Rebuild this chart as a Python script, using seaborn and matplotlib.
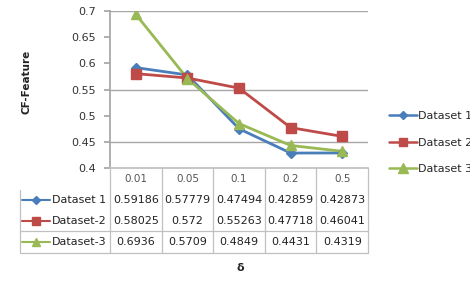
import matplotlib
matplotlib.use("Agg")
import matplotlib.pyplot as plt
import seaborn as sns
import pandas as pd
from matplotlib.lines import Line2D

# ---- data ----
deltas = ["0.01", "0.05", "0.1", "0.2", "0.5"]
table_names = ["Dataset 1", "Dataset-2", "Dataset-3"]
legend_names = ["Dataset 1", "Dataset 2", "Dataset 3"]
ds1 = [0.59186, 0.57779, 0.47494, 0.42859, 0.42873]
ds2 = [0.58025, 0.572, 0.55263, 0.47718, 0.46041]
ds3 = [0.6936, 0.5709, 0.4849, 0.4431, 0.4319]
table_text = [
    ["0.59186", "0.57779", "0.47494", "0.42859", "0.42873"],
    ["0.58025", "0.572", "0.55263", "0.47718", "0.46041"],
    ["0.6936", "0.5709", "0.4849", "0.4431", "0.4319"],
]
y_ticks = [0.4, 0.45, 0.5, 0.55, 0.6, 0.65, 0.7]
y_ticklabels = ["0.4", "0.45", "0.5", "0.55", "0.6", "0.65", "0.7"]
grid_values = [0.45, 0.55, 0.7]
y_label = "CF-Feature"
x_label = "δ"

colors = ["#4A7EBB", "#BE4B48", "#98B954"]
markers = ["D", "s", "^"]
msizes = [5, 7, 7.5]

sns.set_theme(style="white")
plt.rcParams["font.family"] = ["DejaVu Sans"]

W, H = 470, 281
fig = plt.figure(figsize=(W / 100, H / 100), dpi=100)

def fx(px):
    return px / W

def fy(py):
    return 1 - py / H

ax_l, ax_r, ax_t, ax_b = 110, 368, 11, 168
ax = fig.add_axes([fx(ax_l), fy(ax_b), fx(ax_r - ax_l), (ax_b - ax_t) / H])

rows = []
for name, vals in zip(legend_names, [ds1, ds2, ds3]):
    for i, v in enumerate(vals):
        rows.append({"idx": i, "value": v, "series": name})
df = pd.DataFrame(rows)

sns.lineplot(data=df, x="idx", y="value", hue="series", palette=colors,
             linewidth=2.0, legend=False, ax=ax)
for k, name in enumerate(legend_names):
    sub = df[df.series == name]
    ax.plot(sub["idx"], sub["value"], linestyle="none", marker=markers[k],
            markersize=msizes[k], color=colors[k], zorder=5)

ax.set_xlim(-0.5, len(deltas) - 0.5)
ax.set_ylim(0.4, 0.7)
ax.set_yticks(y_ticks)
ax.set_yticklabels(y_ticklabels, fontsize=8, color="#333333")
ax.set_xticks([])
ax.set_xlabel("")
ax.set_ylabel("")
for v in grid_values:
    ax.axhline(v, color="#A6A6A6", linewidth=1.0, zorder=0)
for s in ["top", "right"]:
    ax.spines[s].set_visible(False)
ax.spines["left"].set_color("#A6A6A6")
ax.spines["bottom"].set_color("#BFBFBF")
ax.tick_params(axis="y", which="major", direction="out", length=4,
               color="#A6A6A6", left=True, pad=6)

fig.text(fx(27), fy(82), y_label, rotation=90, fontsize=7.5,
         fontweight="bold", ha="center", va="center", color="#222222")
fig.text(fx(240), fy(268), x_label, fontsize=8, fontweight="bold",
         ha="center", va="center", color="#222222")

# ---- data table ----
col_w = (ax_r - ax_l) / len(deltas)
row_tops = [168, 190, 210, 231, 253]
lc = "#C0C0C0"
for j in range(len(deltas) + 1):
    x = ax_l + j * col_w
    fig.add_artist(Line2D([fx(x), fx(x)], [fy(168), fy(253)], color=lc, lw=0.9))
fig.add_artist(Line2D([fx(20), fx(20)], [fy(190), fy(253)], color=lc, lw=0.9))
for yy in [231, 253]:
    fig.add_artist(Line2D([fx(20), fx(ax_r)], [fy(yy), fy(yy)], color=lc, lw=0.9))

for j, d in enumerate(deltas):
    fig.text(fx(ax_l + (j + 0.5) * col_w), fy((row_tops[0] + row_tops[1]) / 2),
             d, fontsize=7.5, color="#555555", ha="center", va="center")
for r in range(3):
    yc = fy((row_tops[r + 1] + row_tops[r + 2]) / 2)
    fig.add_artist(Line2D([fx(22), fx(50)], [yc, yc], color=colors[r], lw=1.5))
    fig.add_artist(Line2D([fx(36)], [yc], color=colors[r], marker=markers[r],
                          markersize=msizes[r] * 0.85, linestyle="none"))
    fig.text(fx(52), yc, table_names[r], fontsize=8, color="#222222",
             ha="left", va="center")
    for j in range(len(deltas)):
        fig.text(fx(ax_l + (j + 0.5) * col_w), yc, table_text[r][j],
                 fontsize=8, color="#222222", ha="center", va="center")

# ---- legend on right (clipped at the figure edge, as in the reference) ----
handles = [Line2D([0], [0], color=colors[k], lw=1.8, marker=markers[k],
                  markersize=msizes[k] * 0.9) for k in range(3)]
fig.legend(handles, legend_names, loc="upper left",
           bbox_to_anchor=(fx(389), fy(111)), frameon=False, fontsize=8,
           handlelength=2.5, handletextpad=0.15, labelspacing=1.5,
           borderaxespad=0, borderpad=0)

fig.savefig("out.png", dpi=100)
